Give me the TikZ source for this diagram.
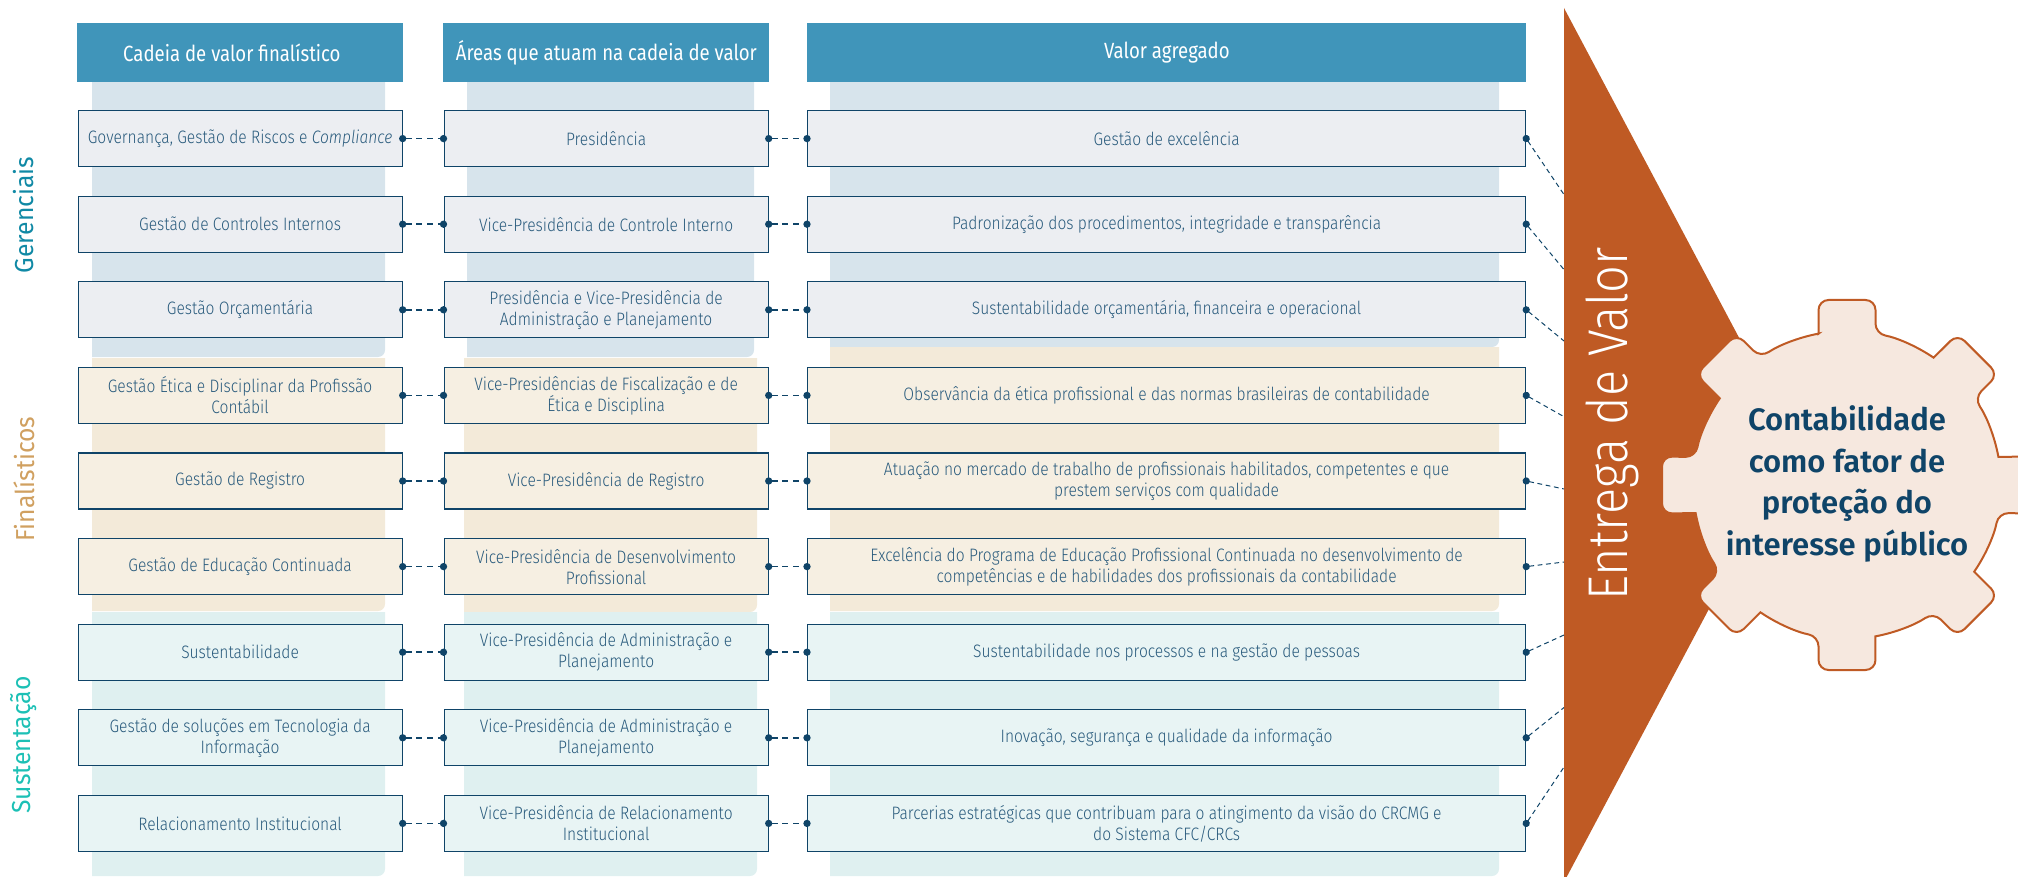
\documentclass[tikz,border=0pt]{standalone}
\usepackage{fontspec}
\usetikzlibrary{arrows.meta}
\setmainfont[FakeStretch=0.865,UprightFont=* Light,ItalicFont=* Light Italic]{Fira Sans}
\newfontfamily\headfont[FakeStretch=0.845]{Fira Sans}
\newfontfamily\sidefont[FakeStretch=0.95]{Fira Sans}
\newfontfamily\gearfont[FakeStretch=1.0,UprightFont=* SemiBold]{Fira Sans}
\newfontfamily\entregafont[FakeStretch=0.87,UprightFont=* Light]{Fira Sans}
\definecolor{headc}{HTML}{4095BA}
\definecolor{edgec}{HTML}{0F4468}
\definecolor{textc}{HTML}{285A7C}
\definecolor{bandA}{HTML}{D7E4EC}
\definecolor{bandB}{HTML}{F3EAD9}
\definecolor{bandC}{HTML}{DFF0F0}
\definecolor{boxA}{HTML}{ECEEF2}
\definecolor{boxB}{HTML}{F6EFE2}
\definecolor{boxC}{HTML}{E8F4F4}
\definecolor{triC}{HTML}{BF5A24}
\definecolor{gearC}{HTML}{F6E8DF}
\definecolor{sideA}{HTML}{1089A5}
\definecolor{sideB}{HTML}{D0A060}
\definecolor{sideC}{HTML}{1CC0B5}
\tikzset{
  headbox/.style={fill=headc,text=white,minimum height=29.5pt,inner sep=0pt,anchor=north west,
    font=\headfont\fontsize{11}{13}\selectfont},
  cellbox/.style={draw=edgec,line width=0.6pt,text=textc,minimum height=28pt,inner sep=0pt,
    align=center,anchor=north west,font=\fontsize{9}{10.5}\selectfont},
  narrowcell/.style={cellbox,minimum width=162pt},
  widecell/.style={cellbox,minimum width=359pt},
  link/.style={draw=edgec,line width=0.75pt,dash pattern=on 3pt off 2.4pt,
    {Circle[length=3.6pt,width=3.6pt]}-{Circle[length=3.6pt,width=3.6pt]},shorten <=-1.8pt,shorten >=-1.8pt},
  outlink/.style={draw=edgec,line width=0.5pt,dash pattern=on 2.4pt off 1.8pt,
    {Circle[length=3.6pt,width=3.6pt]}-,shorten <=-1.8pt},
  sidelabel/.style={rotate=90,font=\sidefont\fontsize{13}{15}\selectfont},
}
\newcommand{\band}[5]{% x0 x1 y0 y1 colour
  \fill[#5] (#1,#3) -- (#2,#3) [rounded corners=3.5pt] -- (#2,#4) [sharp corners] -- (#1,#4) -- cycle;}
\newcommand{\cells}[6]{% id y style text1 text2 text3
  \node[narrowcell,#3] (a#1) at (77.5,#2) {#4};
  \node[narrowcell,#3] (b#1) at (443.5,#2) {#5};
  \node[widecell,#3] (c#1) at (807,#2) {#6};
  \draw[link] (a#1.east) -- (b#1.west);
  \draw[link] (b#1.east) -- (c#1.west);
}
\begin{document}
\begin{tikzpicture}[x=0.5pt,y=-0.5pt]
\useasboundingbox (0,0) rectangle (2018,877);
\clip (0,0) rectangle (2018,877);
% bands
\band{92}{385}{82}{357}{bandA}
\band{467}{754}{82}{357}{bandA}
\band{830}{1499}{82}{347}{bandA}
\band{92}{385}{358}{611}{bandB}
\band{464}{757}{358}{612}{bandB}
\band{830}{1499}{347}{611}{bandB}
\band{92}{385}{612}{876}{bandC}
\band{464}{757}{612}{876}{bandC}
\band{830}{1499}{612}{876}{bandC}
% headers
\node[headbox,minimum width=163pt] (h1) at (77,23) {\hspace{-8.5pt}Cadeia de valor finalístico};
\node[headbox,minimum width=163pt] (h2) at (443,23) {Áreas que atuam na cadeia de valor};
\node[headbox,minimum width=359.5pt] (h3) at (807,23) {Valor agregado};
% triangle
\fill[triC] (1564,8) -- (1796,445) -- (1564,882) -- cycle;
\coordinate (t1) at (1564,194.6);
\coordinate (t2) at (1564,269.6);
\coordinate (t3) at (1564,341);
\coordinate (t4) at (1564,416.7);
\coordinate (t5) at (1564,489);
\coordinate (t6) at (1564,562);
\coordinate (t7) at (1564,635);
\coordinate (t8) at (1564,707.5);
\coordinate (t9) at (1564,767);
% rows
\cells{1}{110}{fill=boxA}{Governança, Gestão de Riscos e \textit{Compliance}}{Presidência}{Gestão de excelência}
\cells{2}{195.6}{fill=boxA}{Gestão de Controles Internos}{Vice-Presidência de Controle Interno}{Padronização dos procedimentos, integridade e transparência}
\cells{3}{281.2}{fill=boxA}{Gestão Orçamentária}{Presidência e Vice-Presidência de\\Administração e Planejamento}{Sustentabilidade orçamentária, financeira e operacional}
\cells{4}{366.8}{fill=boxB}{Gestão Ética e Disciplinar da Profissão\\Contábil}{Vice-Presidências de Fiscalização e de\\Ética e Disciplina}{Observância da ética profissional e das normas brasileiras de contabilidade}
\cells{5}{452.4}{fill=boxB}{Gestão de Registro}{Vice-Presidência de Registro}{Atuação no mercado de trabalho de profissionais habilitados, competentes e que\\prestem serviços com qualidade}
\cells{6}{538}{fill=boxB}{Gestão de Educação Continuada}{Vice-Presidência de Desenvolvimento\\Profissional}{Excelência do Programa de Educação Profissional Continuada no desenvolvimento de\\competências e de habilidades dos profissionais da contabilidade}
\cells{7}{623.6}{fill=boxC}{Sustentabilidade}{Vice-Presidência de Administração e\\Planejamento}{Sustentabilidade nos processos e na gestão de pessoas}
\cells{8}{709.2}{fill=boxC}{Gestão de soluções em Tecnologia da\\Informação}{Vice-Presidência de Administração e\\Planejamento}{Inovação, segurança e qualidade da informação}
\cells{9}{794.8}{fill=boxC}{Relacionamento Institucional}{Vice-Presidência de Relacionamento\\Institucional}{Parcerias estratégicas que contribuam para o atingimento da visão do CRCMG e\\do Sistema CFC/CRCs}
\foreach \i in {1,...,9}{\draw[outlink] (c\i.east) -- (t\i);}
% side labels
\node[sidelabel,text=sideA] (s1) at (24,215) {Gerenciais};
\node[sidelabel,text=sideB] (s2) at (24,479) {Finalísticos};
\node[sidelabel,text=sideC] (s3) at (24,745) {Sustentação};
% Entrega
\node[rotate=90,text=white,font=\entregafont\fontsize{28}{30}\selectfont,inner sep=0pt] (ent) at (1612,424) {Entrega de Valor};
% gear
\begin{scope}[shift={(1847,485)}]
\draw[fill=gearC,draw=triC,line width=1pt]
 (-28.5,-151.3) [rounded corners=5pt] -- (-28.5,-185) -- (28.5,-185) -- (28.5,-151.3) [sharp corners]
 arc[start angle=-79.35,end angle=-55.8,radius=154]
 [rounded corners=5pt] -- (110.5,-151.1) -- (151.1,-110.5) -- (127.2,-86.8) [sharp corners]
 arc[start angle=-34.3,end angle=-10.5,radius=154]
 [rounded corners=5pt] -- (185,-28.5) -- (185,28.5) -- (151.4,28) [sharp corners]
 arc[start angle=10.5,end angle=34.3,radius=154]
 [rounded corners=5pt] -- (151.1,110.5) -- (110.5,151.1) -- (86.5,127.4) [sharp corners]
 arc[start angle=55.8,end angle=79.35,radius=154]
 [rounded corners=5pt] -- (28.5,185) -- (-28.5,185) -- (-28.5,151.3) [sharp corners]
 arc[start angle=100.65,end angle=124.2,radius=154]
 [rounded corners=5pt] -- (-110.5,151.1) -- (-151.1,110.5) -- (-127.2,86.8) [sharp corners]
 arc[start angle=145.7,end angle=169.5,radius=154]
 [rounded corners=5pt] -- (-185,28.5) -- (-185,-28.5) -- (-151.4,-28) [sharp corners]
 arc[start angle=190.5,end angle=214.3,radius=154]
 [rounded corners=5pt] -- (-151.1,-110.5) -- (-110.5,-151.1) -- (-86.5,-127.4) [sharp corners]
 arc[start angle=235.8,end angle=259.35,radius=154] -- cycle;
\node[text=edgec,align=center,inner sep=0pt,font=\gearfont\fontsize{15.5}{20.7}\selectfont] (g) at (0,-1) {Contabilidade\\como fator de\\proteção do\\interesse público};
\end{scope}
\end{tikzpicture}
\end{document}
